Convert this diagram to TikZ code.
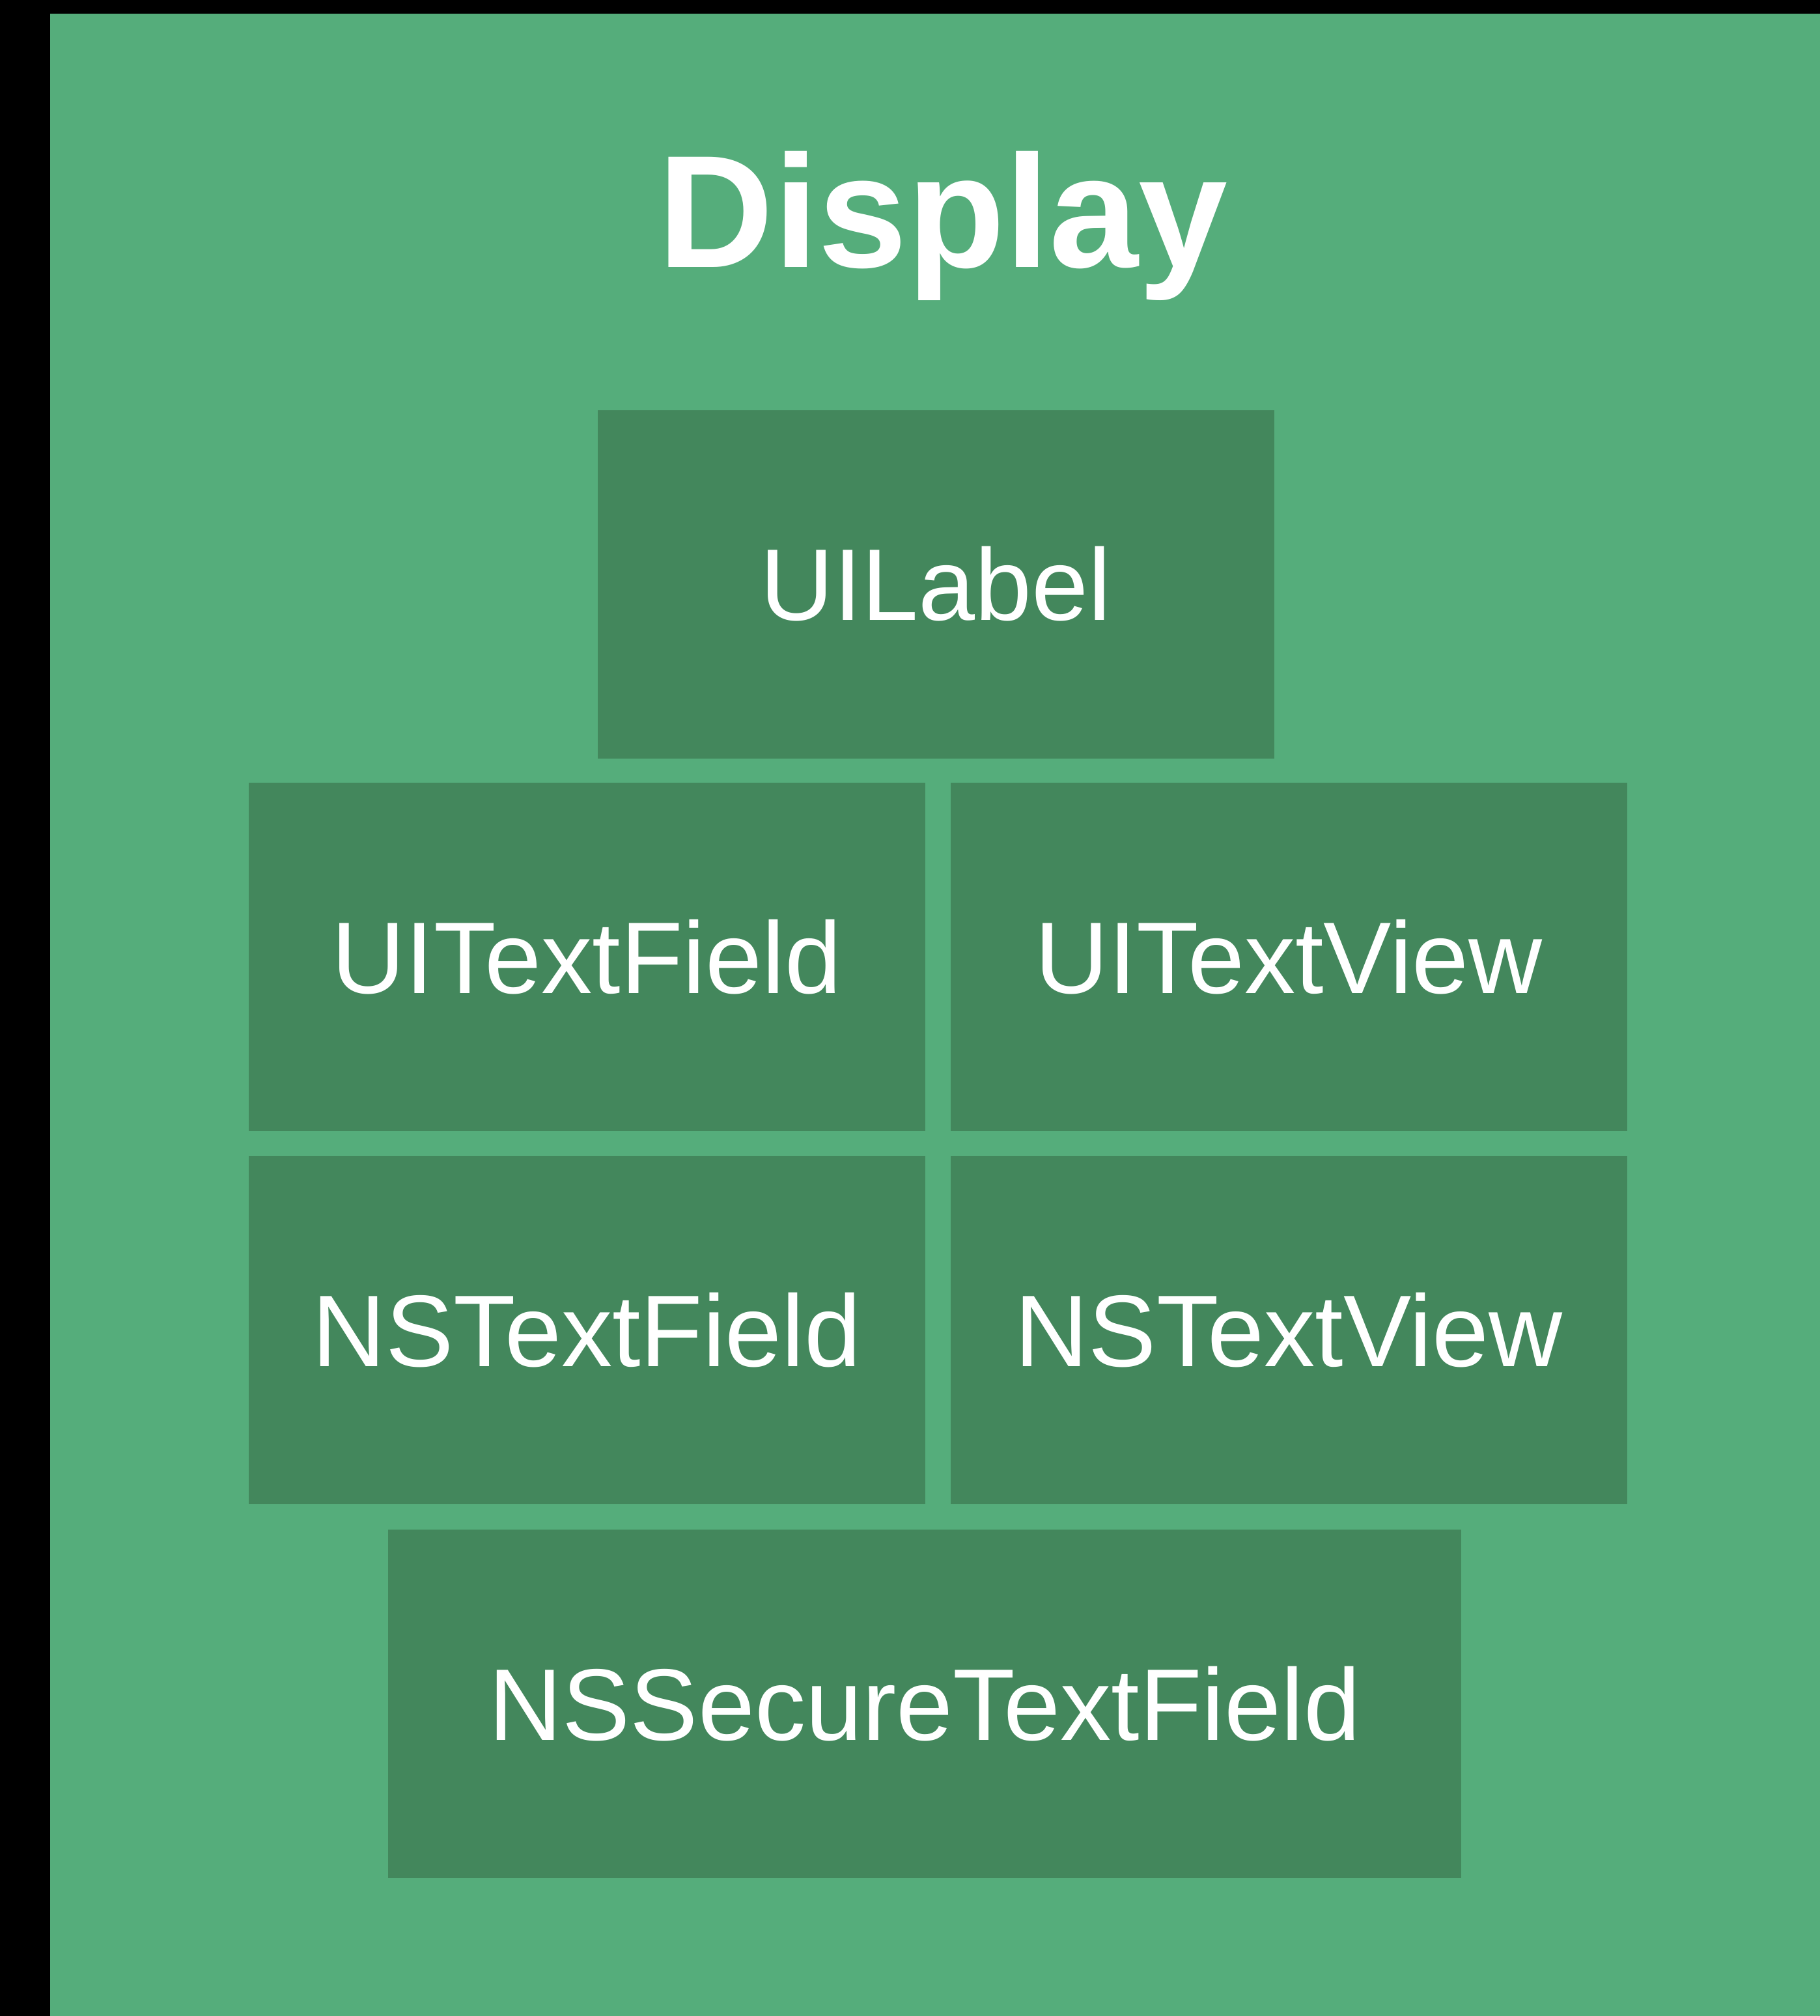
\documentclass[tikz,border=0pt]{standalone}
\usepackage{fontspec}
\setmainfont{Liberation Sans}
\definecolor{panelgreen}{HTML}{55AD7B}
\definecolor{boxgreen}{HTML}{43875C}
\tikzset{
    classbox/.style={fill=boxgreen, draw=none, text=white, inner sep=0pt,
        minimum width=10.39cm, minimum height=5.35cm,
        font=\fontsize{44.5}{50}\selectfont},
    heading/.style={text=white, inner sep=0pt, anchor=base,
        font=\fontsize{70}{80}\selectfont\bfseries}
}
\begin{document}
\begin{tikzpicture}

    % Background and panel
    \fill[black] (0,0) rectangle (27.95,-30.96);
    \useasboundingbox (0,0) rectangle (27.95,-30.96);
    \fill[panelgreen] (0.77,-0.21) rectangle (27.95,-30.96);

    % Title
    \node[heading] (title) at (14.48,-4.10) {Display};

    % Class boxes
    \node[classbox] (uilabel) at (14.37,-8.97) {UILabel};
    \node[classbox] (uitextfield) at (9.01,-14.695) {UITextField};
    \node[classbox] (uitextview) at (19.79,-14.695) {UITextView};
    \node[classbox] (nstextfield) at (9.01,-20.425) {NSTextField};
    \node[classbox] (nstextview) at (19.79,-20.425) {NSTextView};
    \node[classbox, minimum width=16.48cm] (nssecure) at (14.20,-26.165) {NSSecureTextField};

\end{tikzpicture}
\end{document}
